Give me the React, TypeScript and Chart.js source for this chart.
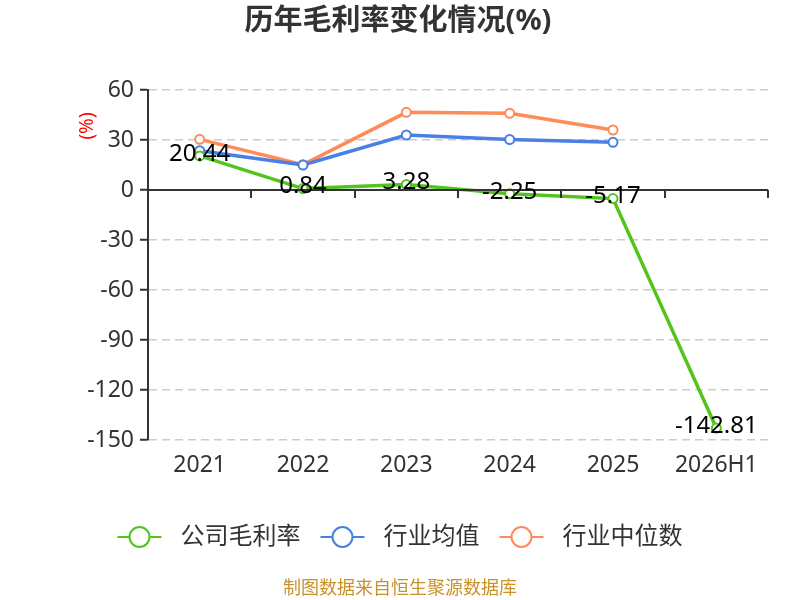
import React, { useEffect, useRef } from 'react';
import Chart from 'chart.js/auto';

const years = ['2021', '2022', '2023', '2024', '2025', '2026H1'];
const companyMargin = [20.44, 0.84, 3.28, -2.25, -5.17, -142.81];
const industryAvg = [23.6, 15.0, 33.0, 30.3, 28.6, null];
const industryMedian = [30.4, 15.2, 46.6, 46.0, 36.0, null];
const seriesNames = ['公司毛利率', '行业均值', '行业中位数'];
const seriesColors = ['#52c41a', '#4a7fe3', '#ff8b58'];
const yTicks = { min: -150, max: 60, step: 30 };

const FONT = '"Noto Sans", "Noto Sans CJK SC", sans-serif';

// dessine titre, ligne du zero, petits traits, labels, legende et source
const decorPlugin = {
  id: 'decor',
  afterDraw(chart: any) {
    const { ctx, chartArea, scales } = chart;
    const y = scales.y;
    ctx.save();

    // titre
    ctx.fillStyle = '#333';
    ctx.font = 'bold 29px ' + FONT;
    ctx.textAlign = 'center';
    ctx.textBaseline = 'middle';
    ctx.fillText('历年毛利率变化情况(%)', 398, 22);

    // unite axe y
    ctx.save();
    ctx.translate(88, 126);
    ctx.rotate(-Math.PI / 2);
    ctx.fillStyle = '#ff0000';
    ctx.font = '19px ' + FONT;
    ctx.fillText('(%)', 0, 0);
    ctx.restore();

    // ligne du zero + traits
    const y0 = y.getPixelForValue(0);
    ctx.strokeStyle = '#333';
    ctx.lineWidth = 2;
    ctx.beginPath();
    ctx.moveTo(chartArea.left, y0);
    ctx.lineTo(chartArea.right, y0);
    const step = (chartArea.right - chartArea.left) / years.length;
    for (let i = 1; i <= years.length; i++) {
      const px = Math.round(chartArea.left + step * i);
      ctx.moveTo(px, y0);
      ctx.lineTo(px, y0 + 8);
    }
    ctx.stroke();

    // labels des valeurs
    ctx.fillStyle = '#000';
    ctx.font = '24px ' + FONT;
    const meta = chart.getDatasetMeta(0);
    meta.data.forEach((pt: any, i: number) => {
      ctx.fillText(String(companyMargin[i].toFixed(2)), pt.x, pt.y - 2);
    });

    // legende
    ctx.font = '24px ' + FONT;
    ctx.textAlign = 'left';
    const items = seriesNames.map((n) => ctx.measureText(n).width);
    const markerW = 44;
    const textGap = 19;
    const gap = 20;
    const total = items.reduce((a, w) => a + markerW + textGap + w, 0) + gap * (items.length - 1);
    let lx = 400 - total / 2;
    const ly = 537;
    items.forEach((w, i) => {
      ctx.strokeStyle = seriesColors[i];
      ctx.lineWidth = 2;
      ctx.beginPath();
      ctx.moveTo(lx, ly);
      ctx.lineTo(lx + markerW, ly);
      ctx.stroke();
      ctx.beginPath();
      ctx.arc(lx + markerW / 2, ly, 10, 0, Math.PI * 2);
      ctx.fillStyle = '#fff';
      ctx.fill();
      ctx.stroke();
      ctx.fillStyle = '#333';
      ctx.fillText(seriesNames[i], lx + markerW + textGap, ly);
      lx += markerW + textGap + w + gap;
    });

    // source
    ctx.textAlign = 'center';
    ctx.fillStyle = '#c8922a';
    ctx.font = '18px ' + FONT;
    ctx.fillText('制图数据来自恒生聚源数据库', 400, 589);

    ctx.restore();
  },
};

const App = () => {
  const chartRef = useRef<HTMLCanvasElement | null>(null);
  const chartInstance = useRef<Chart | null>(null);

  useEffect(() => {
    document.body.style.margin = '0';
    if (!chartRef.current) return;
    const ctx = chartRef.current.getContext('2d');
    if (!ctx) return;

    const mk = (data: (number | null)[], i: number) => ({
      label: seriesNames[i],
      data: data,
      borderColor: seriesColors[i],
      backgroundColor: '#fff',
      borderWidth: 3.5,
      pointRadius: 4.5,
      pointBorderWidth: 2,
      pointBackgroundColor: '#fff',
      pointBorderColor: seriesColors[i],
      tension: 0,
      spanGaps: false,
    });

    chartInstance.current = new Chart(ctx, {
      type: 'line',
      data: {
        labels: years,
        datasets: [mk(companyMargin, 0), mk(industryAvg, 1), mk(industryMedian, 2)],
      },
      plugins: [decorPlugin],
      options: {
        responsive: false,
        animation: false,
        layout: { padding: { top: 90, right: 32, bottom: 120, left: 0 } },
        plugins: {
          legend: { display: false },
          title: { display: false },
          tooltip: { enabled: false },
        },
        scales: {
          x: {
            offset: true,
            grid: { display: false, drawTicks: false },
            border: { display: false },
            ticks: { color: '#333', padding: 12, font: { size: 23, family: FONT } },
            afterFit: (s: any) => { s.height = 40; },
          },
          y: {
            min: yTicks.min,
            max: yTicks.max,
            ticks: {
              stepSize: yTicks.step,
              color: '#333',
              padding: 6,
              font: { size: 23, family: FONT },
            },
            grid: {
              color: (c: any) => (c.tick && c.tick.value === 0 ? 'rgba(0,0,0,0)' : '#cccccc'),
              lineWidth: 1.5,
              tickColor: '#333',
              tickLength: 8,
              tickWidth: 2,
            },
            border: { display: true, color: '#333', width: 2, dash: [8, 5] },
            afterFit: (s: any) => { s.width = 148; },
          },
        },
      },
    } as any);

    return () => {
      if (chartInstance.current) {
        chartInstance.current.destroy();
        chartInstance.current = null;
      }
    };
  }, []);

  return (
    <div style={{ width: 800, height: 600, background: '#fff' }}>
      <canvas ref={chartRef} width={800} height={600}></canvas>
    </div>
  );
};

export default App;
